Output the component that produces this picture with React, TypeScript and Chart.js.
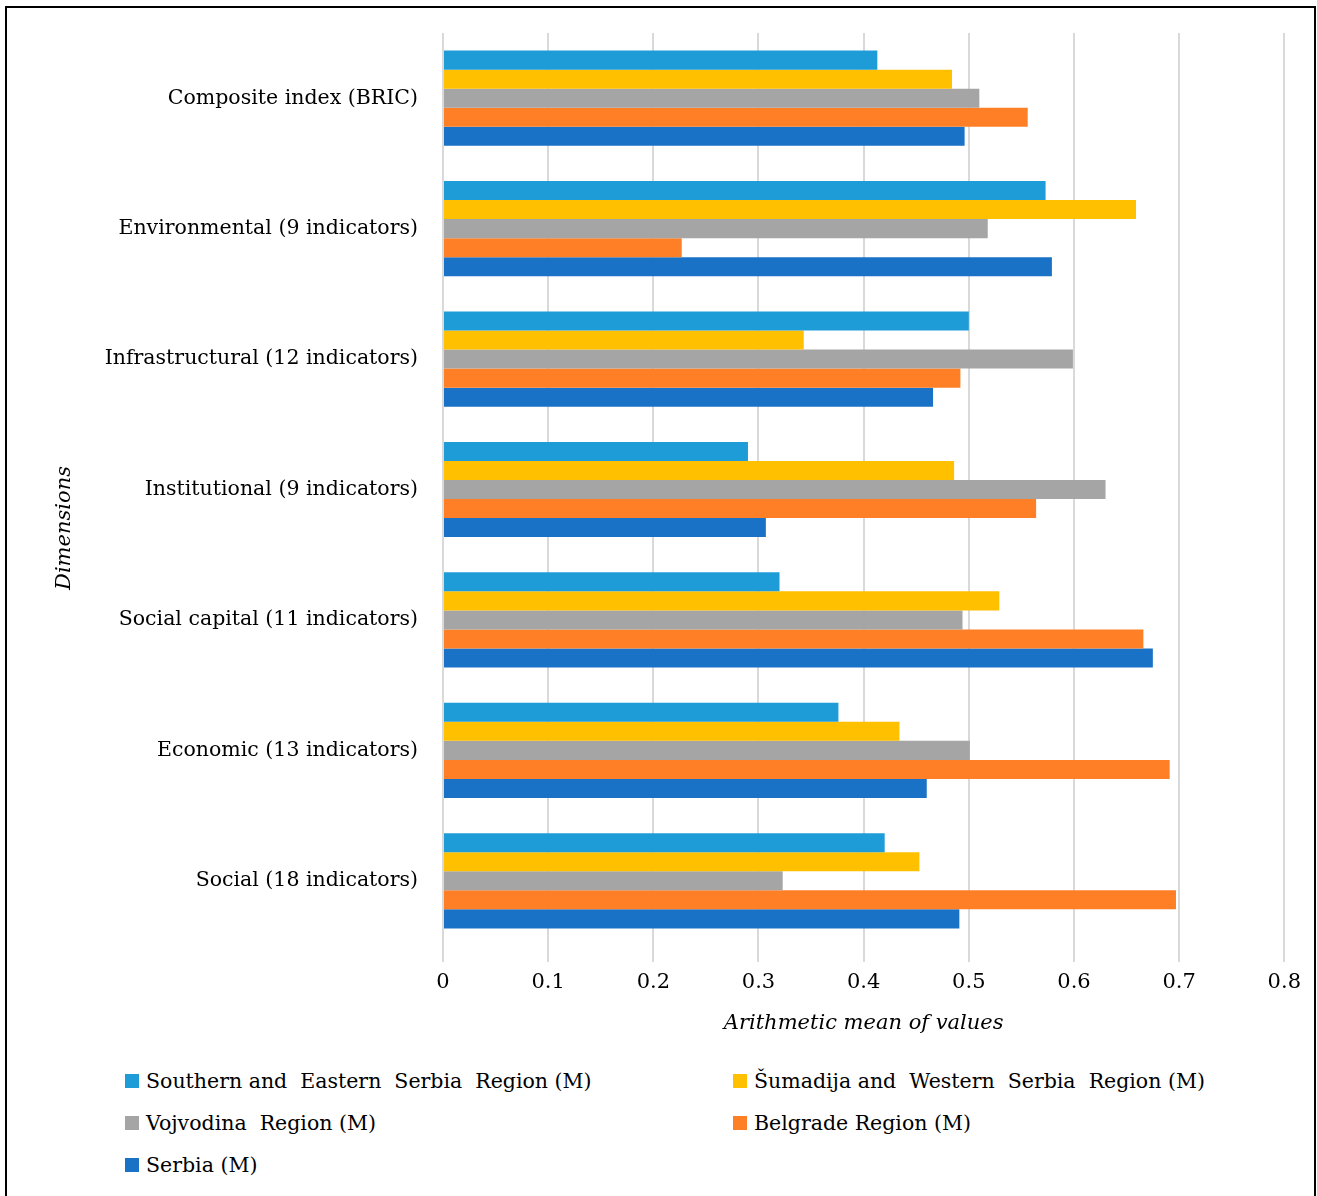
import React, { useEffect, useRef } from "react";
import { Chart, registerables } from "chart.js";

Chart.register(...registerables);

const categories = [
  "Composite index (BRIC)",
  "Environmental (9 indicators)",
  "Infrastructural (12 indicators)",
  "Institutional (9 indicators)",
  "Social capital (11 indicators)",
  "Economic (13 indicators)",
  "Social (18 indicators)",
];

const seriesNames = [
  "Southern and  Eastern  Serbia  Region (M)",
  "Šumadija and  Western  Serbia  Region (M)",
  "Vojvodina  Region (M)",
  "Belgrade Region (M)",
  "Serbia (M)",
];

const southernEastern = [0.413, 0.573, 0.5, 0.29, 0.32, 0.376, 0.42];
const sumadijaWestern = [0.484, 0.659, 0.343, 0.486, 0.529, 0.434, 0.453];
const vojvodina = [0.51, 0.518, 0.599, 0.63, 0.494, 0.501, 0.323];
const belgrade = [0.556, 0.227, 0.492, 0.564, 0.666, 0.691, 0.697];
const serbia = [0.496, 0.579, 0.466, 0.307, 0.675, 0.46, 0.491];

const seriesColors = ["#1E9CD8", "#FFC000", "#A5A5A5", "#FF7F27", "#1A72C6"];

const xMin = 0;
const xMax = 0.8;
const xStep = 0.1;

const xTitle = "Arithmetic mean of values";
const yTitle = "Dimensions";

const FONT = '"DejaVu Serif", serif';

const titlesPlugin = {
  id: "axisTitles",
  afterDraw(chart: any) {
    const ctx = chart.ctx;
    const ca = chart.chartArea;
    ctx.save();
    ctx.fillStyle = "#000";
    ctx.font = `italic 21px ${FONT}`;
    ctx.textAlign = "center";
    ctx.textBaseline = "middle";
    ctx.fillText(xTitle, (ca.left + ca.right) / 2, ca.bottom + 78);
    ctx.translate(56, ca.top + 495);
    ctx.rotate(-Math.PI / 2);
    ctx.fillText(yTitle, 0, 0);
    ctx.restore();
  },
};

export default function App() {
  const ref = useRef<HTMLCanvasElement | null>(null);

  useEffect(() => {
    if (!ref.current) return;
    const allSeries = [southernEastern, sumadijaWestern, vojvodina, belgrade, serbia];
    const chart = new Chart(ref.current, {
      type: "bar",
      data: {
        labels: categories,
        datasets: allSeries.map((d, i) => ({
          label: seriesNames[i],
          data: d,
          backgroundColor: seriesColors[i],
          borderWidth: 0,
          categoryPercentage: 0.73,
          barPercentage: 1.0,
        })),
      },
      options: {
        indexAxis: "y",
        animation: false,
        responsive: false,
        maintainAspectRatio: false,
        layout: { padding: { top: 24, right: 24, bottom: 0, left: 0 } },
        plugins: {
          legend: { display: false },
          tooltip: { enabled: false },
          title: { display: false },
        },
        scales: {
          x: {
            type: "linear",
            min: xMin,
            max: xMax,
            border: { display: false },
            grid: {
              color: "#D9D9D9",
              lineWidth: 2,
              tickLength: 16,
              drawTicks: true,
            },
            ticks: {
              stepSize: xStep,
              padding: 8,
              color: "#000",
              font: { family: FONT, size: 21 },
              callback: (v: any) => {
                const n = Math.round(Number(v) * 10) / 10;
                return n === 0 ? "0" : n.toFixed(1);
              },
            },
            afterFit: (s: any) => {
              s.height = 103;
            },
          },
          y: {
            type: "category",
            border: { display: false },
            grid: { display: false, drawTicks: false },
            ticks: {
              padding: 25,
              color: "#000",
              font: { family: FONT, size: 20.5 },
            },
            afterFit: (s: any) => {
              s.width = 434;
              s.paddingTop = 0;
              s.paddingBottom = 0;
            },
          },
        },
      },
      plugins: [titlesPlugin],
    });
    return () => chart.destroy();
  }, []);

  const legendPos = [
    { left: 125, top: 1081 },
    { left: 733, top: 1081 },
    { left: 125, top: 1123 },
    { left: 733, top: 1123 },
    { left: 125, top: 1165 },
  ];

  return (
    <div>
      <div
        style={{
          position: "absolute",
          left: 5,
          top: 6,
          width: 1311,
          height: 1200,
          border: "2px solid #000",
          boxSizing: "border-box",
        }}
      />
      <div style={{ position: "absolute", left: 9, top: 9, width: 1300, height: 1040 }}>
        <canvas ref={ref} width={1300} height={1040} style={{ width: 1300, height: 1040, display: "block" }} />
      </div>
      {seriesNames.map((name, i) => (
        <div
          key={name}
          style={{
            position: "absolute",
            left: legendPos[i].left,
            top: legendPos[i].top - 15,
            height: 30,
            display: "flex",
            alignItems: "center",
            fontFamily: FONT,
            fontSize: 20.5,
            color: "#000",
            whiteSpace: "pre",
          }}
        >
          <span
            style={{
              display: "inline-block",
              width: 14,
              height: 14,
              background: seriesColors[i],
              marginRight: 7,
            }}
          />
          <span>{name}</span>
        </div>
      ))}
    </div>
  );
}
